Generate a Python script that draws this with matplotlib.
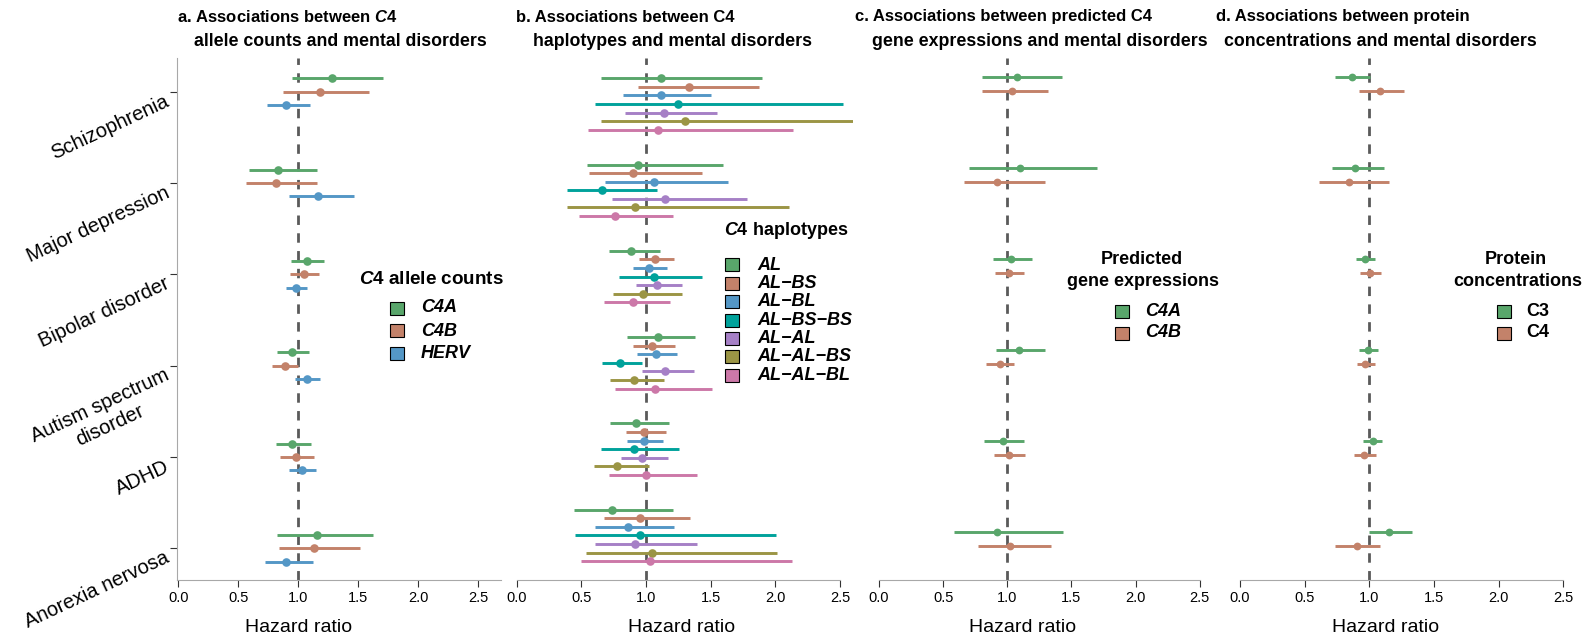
import matplotlib
matplotlib.use("Agg")
import matplotlib.pyplot as plt
from matplotlib.patches import Rectangle

plt.rcParams['font.family'] = ['Liberation Sans', 'DejaVu Sans']
plt.rcParams['mathtext.fontset'] = 'custom'
plt.rcParams['mathtext.it'] = 'Liberation Sans:italic:bold'
plt.rcParams['mathtext.rm'] = 'Liberation Sans:bold'

disorders = ["Schizophrenia", "Major depression", "Bipolar disorder",
             "Autism spectrum\ndisorder", "ADHD", "Anorexia nervosa"]

# a. allele counts
allele_names = ["C4A", "C4B", "HERV"]
allele_hr = [[1.28, 0.83, 1.07, 0.945, 0.947, 1.156],
             [1.18, 0.81, 1.047, 0.886, 0.978, 1.128],
             [0.90, 1.16, 0.983, 1.072, 1.033, 0.90]]
allele_lo = [[0.95, 0.589, 0.942, 0.82, 0.811, 0.825],
             [0.875, 0.564, 0.931, 0.778, 0.845, 0.839],
             [0.736, 0.922, 0.897, 0.972, 0.925, 0.725]]
allele_hi = [[1.708, 1.156, 1.211, 1.086, 1.108, 1.622],
             [1.592, 1.156, 1.172, 0.997, 1.133, 1.517],
             [1.097, 1.461, 1.07, 1.183, 1.144, 1.122]]

# b. haplotypes
hap_names = ["AL", "AL\u2212BS", "AL\u2212BL", "AL\u2212BS\u2212BS",
             "AL\u2212AL", "AL\u2212AL\u2212BS", "AL\u2212AL\u2212BL"]
hap_hr = [[1.114, 0.938, 0.886, 1.09, 0.925, 0.737],
          [1.33, 0.90, 1.07, 1.047, 0.985, 0.954],
          [1.114, 1.059, 1.026, 1.075, 0.982, 0.858],
          [1.245, 0.657, 1.062, 0.799, 0.907, 0.956],
          [1.137, 1.149, 1.085, 1.149, 0.971, 0.917],
          [1.302, 0.915, 0.974, 0.91, 0.776, 1.049],
          [1.093, 0.76, 0.90, 1.072, 0.997, 1.033]]
hap_lo = [[0.65, 0.546, 0.712, 0.853, 0.724, 0.443],
          [0.94, 0.562, 0.946, 0.897, 0.845, 0.673],
          [0.825, 0.685, 0.902, 0.933, 0.853, 0.608],
          [0.608, 0.391, 0.791, 0.66, 0.654, 0.453],
          [0.84, 0.738, 0.92, 0.967, 0.809, 0.608],
          [0.65, 0.391, 0.745, 0.719, 0.60, 0.538],
          [0.554, 0.479, 0.678, 0.763, 0.712, 0.497]]
hap_hi = [[1.897, 1.593, 1.106, 1.379, 1.18, 1.209],
          [1.872, 1.431, 1.214, 1.222, 1.152, 1.343],
          [1.50, 1.632, 1.165, 1.237, 1.129, 1.214],
          [2.521, 1.083, 1.431, 0.969, 1.258, 2.003],
          [1.549, 1.784, 1.276, 1.374, 1.172, 1.392],
          [2.75, 2.103, 1.281, 1.137, 1.023, 2.011],
          [2.139, 1.209, 1.188, 1.508, 1.394, 2.129]]

# c. predicted gene expression
expr_names = ["C4A", "C4B"]
expr_hr = [[1.073, 1.099, 1.031, 1.089, 0.964, 0.92],
           [1.034, 0.922, 1.016, 0.94, 1.013, 1.023]]
expr_lo = [[0.803, 0.704, 0.888, 0.915, 0.818, 0.587],
           [0.803, 0.665, 0.902, 0.836, 0.893, 0.774]]
expr_hi = [[1.426, 1.701, 1.195, 1.29, 1.133, 1.436],
           [1.32, 1.29, 1.133, 1.054, 1.138, 1.343]]

# d. protein concentrations
prot_names = ["C3", "C4"]
prot_hr = [[0.864, 0.892, 0.969, 0.992, 1.026, 1.155],
           [1.083, 0.843, 1.005, 0.966, 0.961, 0.902]]
prot_lo = [[0.735, 0.711, 0.90, 0.92, 0.951, 1.0],
           [0.92, 0.611, 0.928, 0.904, 0.884, 0.735]]
prot_hi = [[1.008, 1.116, 1.044, 1.067, 1.101, 1.328],
           [1.268, 1.15, 1.088, 1.041, 1.054, 1.08]]

colors = ['#59a66b', '#c3826a', '#5497c6', '#00a29b', '#a680c6', '#9b9545', '#cc78a8']

W, H = 1585, 644
fig = plt.figure(figsize=(W / 100, H / 100), dpi=100)
ybot, ytop = 580, 58


def fx(px):
    return px / W


def fy(py):
    return 1 - py / H


def make_ax(left_px, x0_px, px_per_unit, xmax):
    right_px = x0_px + xmax * px_per_unit
    xmin = (left_px - x0_px) / px_per_unit
    ax = fig.add_axes([fx(left_px), fy(ybot), (right_px - left_px) / W, (ybot - ytop) / H])
    ax.set_xlim(xmin, xmax)
    ax.set_ylim(5.347, -0.369)
    return ax


def draw(ax, hr, lo, hi, base, step, spacing, ms):
    for j in range(len(hr)):
        ys = [base + i * spacing + j * step for i in range(6)]
        ax.hlines(ys, lo[j], hi[j], color=colors[j], lw=2.1, zorder=2)
        ax.plot(hr[j], ys, 'o', color=colors[j], ms=ms, mec='none', zorder=3)


def style(ax, show_y=False, bounds=None):
    for s in ['top', 'right']:
        ax.spines[s].set_visible(False)
    ax.spines['bottom'].set_color('#a8a8a8')
    ax.spines['left'].set_color('#a8a8a8')
    if bounds:
        ax.spines['bottom'].set_bounds(*bounds)
    ax.set_xticks([0, 0.5, 1.0, 1.5, 2.0, 2.5])
    ax.set_xticklabels(["0.0", "0.5", "1.0", "1.5", "2.0", "2.5"])
    ax.tick_params(axis='x', length=5, color='#333333', labelsize=10.5, pad=3)
    ax.axvline(1.0, color='#5a5a5a', lw=2.0, ls=(0, (3.4, 3.0)), zorder=1)
    if show_y:
        ax.set_yticks(range(6))
        ax.set_yticklabels(disorders, rotation=25, ha='right', va='top',
                           rotation_mode='anchor', multialignment='center', fontsize=14.5)
        ax.tick_params(axis='y', length=5, color='#333333', pad=4)
    else:
        ax.spines['left'].set_visible(False)
        ax.set_yticks([])


def legend(names, x_sw, x_txt, ys, italic=True):
    for k, name in enumerate(names):
        fig.patches.append(Rectangle((fx(x_sw), fy(ys[k] + 6.5)), 14 / W, 13 / H,
                                     transform=fig.transFigure, facecolor=colors[k],
                                     edgecolor='black', lw=0.8))
        fig.text(fx(x_txt), fy(ys[k]), name, fontsize=13, fontweight='bold',
                 fontstyle='italic' if italic else 'normal', ha='left', va='center')


lkw = dict(fontsize=13, fontweight='bold', va='center')

ax_a = make_ax(176.7, 178.3, 120.0, 2.689)
draw(ax_a, allele_hr, allele_lo, allele_hi, -0.146, 0.146, 1.0, 6.2)
style(ax_a, show_y=True)
fig.text(fx(359), fy(279), r"$\mathit{C4}$ allele counts", ha='left',
         **dict(lkw, fontsize=13.6))
legend(allele_names, 390, 421, [308, 331, 353])

ax_b = make_ax(516.7, 516.7, 129.3, 2.6)
draw(ax_b, hap_hr, hap_lo, hap_hi, -0.147, 0.0938, 0.945, 6.2)
style(ax_b, bounds=(0, 2.5))
fig.text(fx(724), fy(230), r"$\mathit{C4}$ haplotypes", ha='left', **lkw)
legend(hap_names, 725, 757, [265, 283.3, 301.7, 320, 338.3, 356.7, 375])

ax_c = make_ax(879.0, 879.0, 128.3, 2.55)
draw(ax_c, expr_hr, expr_lo, expr_hi, -0.164, 0.153, 0.9964, 5.6)
style(ax_c, bounds=(0, 2.5))
fig.text(fx(1142), fy(260), "Predicted", ha='center', **lkw)
fig.text(fx(1143), fy(282), "gene expressions", ha='center', **lkw)
legend(expr_names, 1115, 1145, [311, 333])

ax_d = make_ax(1240.0, 1240.0, 129.3, 2.55)
draw(ax_d, prot_hr, prot_lo, prot_hi, -0.164, 0.153, 0.9964, 5.6)
style(ax_d, bounds=(0, 2.5))
fig.text(fx(1516), fy(260), "Protein", ha='center', **lkw)
fig.text(fx(1518), fy(282), "concentrations", ha='center', **lkw)
legend(prot_names, 1497, 1526, [311, 333], italic=False)

# panel titles
t1 = dict(fontsize=12, fontweight='bold', ha='left', va='center')
t2 = dict(fontsize=12.8, fontweight='bold', ha='left', va='center')
fig.text(fx(177), fy(17), r"a. Associations between $\mathit{C4}$", **t1)
fig.text(fx(194), fy(41), "allele counts and mental disorders", **t2)
fig.text(fx(516), fy(17), "b. Associations between C4", **t1)
fig.text(fx(533), fy(41), "haplotypes and mental disorders", **t2)
fig.text(fx(855), fy(17), "c. Associations between predicted C4", **t1)
fig.text(fx(872), fy(41), "gene expressions and mental disorders", **t2)
fig.text(fx(1216), fy(17), "d. Associations between protein", **t1)
fig.text(fx(1224), fy(41), "concentrations and mental disorders", **t2)

for xc in [299, 682, 1023, 1386]:
    fig.text(fx(xc), fy(627), "Hazard ratio", fontsize=14, ha='center', va='center')

fig.savefig("out.png", dpi=100)
